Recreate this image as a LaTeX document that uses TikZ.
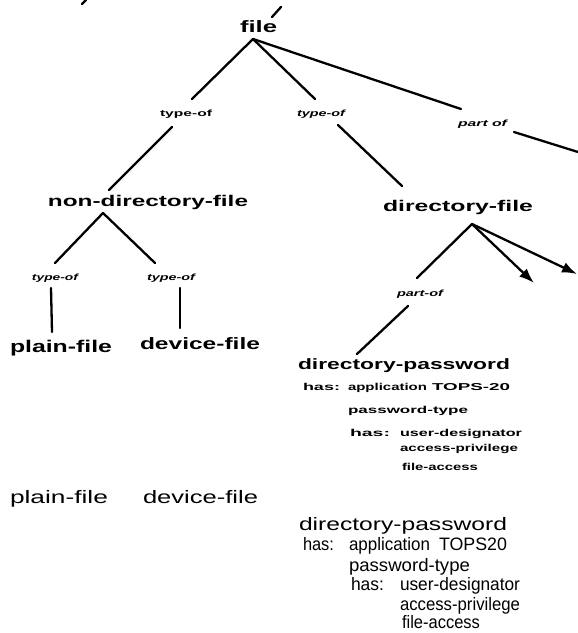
\documentclass[tikz,border=0pt]{standalone}
\usepackage{fontspec}
\setmainfont{Liberation Sans}
\usepackage{graphicx}
\usetikzlibrary{arrows.meta}
\newcommand{\fw}[2]{\resizebox{#1pt}{\height}{#2}}
\begin{document}
\begin{tikzpicture}[x=1pt,y=-1pt,
  lbl/.style={inner sep=0pt, outer sep=0pt, anchor=base west},
  bigt/.style={lbl, font=\bfseries\fontsize{15.5}{15.5}\selectfont},
  smt/.style={lbl, font=\bfseries\fontsize{10}{10}\selectfont},
  lab/.style={lbl, font=\bfseries\fontsize{9}{9}\selectfont},
  labi/.style={lbl, font=\bfseries\itshape\fontsize{9}{9}\selectfont},
  plt/.style={lbl, font=\fontsize{18}{18}\selectfont},
  ln/.style={line width=2.3pt, line cap=round},
  arr/.style={line width=2.3pt, -{Latex[length=15pt,width=11pt]}}
]
\useasboundingbox (0,0) rectangle (578,633);

% ---------- upper (scanned) diagram text ----------
\node[bigt, font=\bfseries\fontsize{16.5}{16.5}\selectfont] (file) at (240,32) {\fw{37}{file}};
\node[bigt] (ndf) at (48,206) {\fw{200}{non-directory-file}};
\node[bigt] (df) at (383,211) {\fw{150}{directory-file}};
\node[bigt, font=\bfseries\fontsize{17}{17}\selectfont] (pf) at (10,352) {\fw{102}{plain-file}};
\node[bigt, font=\bfseries\fontsize{16.5}{16.5}\selectfont] (dvf) at (140,349) {\fw{120}{device-file}};
\node[bigt, font=\bfseries\fontsize{15}{15}\selectfont] (dp) at (298,369) {\fw{212}{directory-password}};

\node[lab]  (t1) at (160,116) {\fw{52}{type-of}};
\node[labi] (t2) at (297,116) {\fw{48}{type-of}};
\node[labi] (p1) at (458,126) {\fw{49}{part of}};
\node[labi] (p2) at (397,296) {\fw{46}{part-of}};
\node[labi] (t3) at (32,280) {\fw{46}{type-of}};
\node[labi] (t4) at (147,280) {\fw{48}{type-of}};

\node[smt] (h1) at (303,390) {\fw{37}{has:}};
\node[smt] (ap) at (348,390) {\fw{79}{application}};
\node[smt] (tp) at (432,390) {\fw{78}{TOPS-20}};
\node[smt] (pt) at (348,413) {\fw{120}{password-type}};
\node[smt] (h2) at (350,436) {\fw{40}{has:}};
\node[smt] (ud) at (400,436) {\fw{122}{user-designator}};
\node[smt] (acp) at (400,451) {\fw{118}{access-privilege}};
\node[smt] (fa) at (402,470) {\fw{76}{file-access}};

% ---------- lower (plain) text ----------
\node[plt] (bpf) at (10,503) {\fw{98}{plain-file}};
\node[plt] (bdf) at (143,503) {\fw{115}{device-file}};
\node[plt] (bdp) at (299,530) {\fw{208}{directory-password}};
\node[plt] (bh1) at (303,550) {\fw{31}{has:}};
\node[plt] (bap) at (349,550) {\fw{81}{application}};
\node[plt] (btp) at (439,550) {\fw{68}{TOPS20}};
\node[plt] (bpt) at (349,571) {\fw{121}{password-type}};
\node[plt] (bh2) at (351,590) {\fw{33}{has:}};
\node[plt] (bud) at (400,590) {\fw{120}{user-designator}};
\node[plt] (bac) at (400,610) {\fw{120}{access-privilege}};
\node[plt] (bfa) at (402,628) {\fw{78}{file-access}};

% ---------- connector end points ----------
\coordinate (mk1) at (82,4);  \coordinate (mk2) at (86,0);
\coordinate (up1) at (272,17); \coordinate (up2) at (281,7);
\coordinate (A) at (253,39);
\coordinate (a1) at (192,99);  \coordinate (a2) at (172,127); \coordinate (a3) at (109,190);
\coordinate (b1) at (315,99);  \coordinate (b2) at (338,125); \coordinate (b3) at (402,186);
\coordinate (c1) at (461,109); \coordinate (c2) at (514,132); \coordinate (c3) at (578,152);
\coordinate (B) at (103,213);
\coordinate (d1) at (55,263);  \coordinate (d2) at (51,288);  \coordinate (d3) at (52,332);
\coordinate (e1) at (155,263); \coordinate (e2) at (180,288); \coordinate (e3) at (180,328);
\coordinate (C) at (472,224);
\coordinate (f1) at (417,278); \coordinate (f2) at (408,306); \coordinate (f3) at (357,354);
\coordinate (g1) at (534,283); \coordinate (g2) at (577,274);

% ---------- connectors ----------
\draw[ln] (mk1) -- (mk2);
\draw[ln] (up1) -- (up2);
\draw[ln] (A) -- (a1);  \draw[ln] (a2) -- (a3);
\draw[ln] (A) -- (b1);  \draw[ln] (b2) -- (b3);
\draw[ln] (A) -- (c1);  \draw[ln] (c2) -- (c3);
\draw[ln] (B) -- (d1);  \draw[ln] (d2) -- (d3);
\draw[ln] (B) -- (e1);  \draw[ln] (e2) -- (e3);
\draw[ln] (C) -- (f1);  \draw[ln] (f2) -- (f3);
\draw[arr] (C) -- (g1);
\draw[arr] (C) -- (g2);
\end{tikzpicture}
\end{document}
